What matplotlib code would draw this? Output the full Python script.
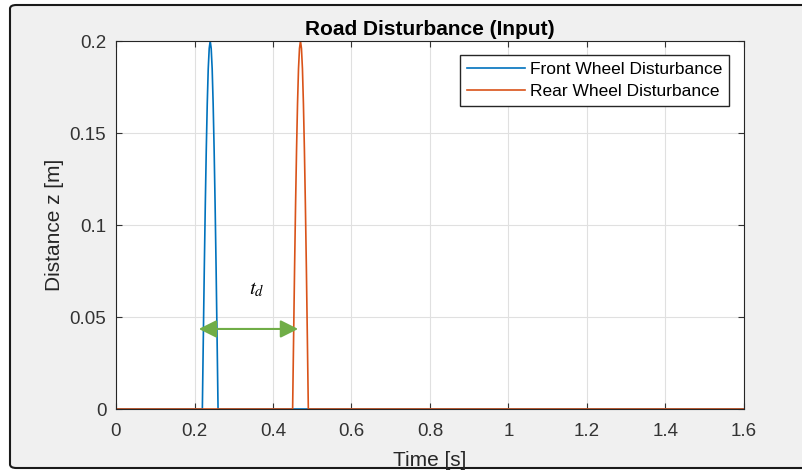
import matplotlib.pyplot as plt
from matplotlib.patches import FancyBboxPatch

plt.rcParams['font.family'] = ['Liberation Sans', 'DejaVu Sans']
plt.rcParams['mathtext.fontset'] = 'stix'

# Values (half-sine bumps of 0.2 m)
front_time = [0, 0.22, 0.2225, 0.225, 0.2275, 0.23, 0.2325, 0.235, 0.2375, 0.24,
              0.2425, 0.245, 0.2475, 0.25, 0.2525, 0.255, 0.2575, 0.26, 1.6]
front_z = [0, 0, 0.039, 0.077, 0.111, 0.141, 0.166, 0.185, 0.196, 0.2,
           0.196, 0.185, 0.166, 0.141, 0.111, 0.077, 0.039, 0, 0]
rear_time = [0, 0.45, 0.4525, 0.455, 0.4575, 0.46, 0.4625, 0.465, 0.4675, 0.47,
             0.4725, 0.475, 0.4775, 0.48, 0.4825, 0.485, 0.4875, 0.49, 1.6]
rear_z = [0, 0, 0.039, 0.077, 0.111, 0.141, 0.166, 0.185, 0.196, 0.2,
          0.196, 0.185, 0.166, 0.141, 0.111, 0.077, 0.039, 0, 0]
series_names = ['Front Wheel Disturbance', 'Rear Wheel Disturbance']
x_ticks = [0, 0.2, 0.4, 0.6, 0.8, 1.0, 1.2, 1.4, 1.6]
x_tick_labels = ['0', '0.2', '0.4', '0.6', '0.8', '1', '1.2', '1.4', '1.6']
y_ticks = [0, 0.05, 0.1, 0.15, 0.2]
y_tick_labels = ['0', '0.05', '0.1', '0.15', '0.2']
delay_start = 0.211
delay_end = 0.464
delay_level = 0.0435

W, H = 803, 470
fig = plt.figure(figsize=(W / 100, H / 100), dpi=100, facecolor='white')

# grey MATLAB figure panel with dark frame
panel = FancyBboxPatch((10 / W, 2 / H), (W + 20) / W, (H - 5 - 2) / H,
                       boxstyle='round,pad=0,rounding_size=0.008',
                       transform=fig.transFigure, facecolor='#F0F0F0',
                       edgecolor='#1a1a1a', linewidth=1.5, zorder=-5)
fig.patches.append(panel)

ax = fig.add_axes([116 / W, 1 - 409 / H, (744 - 116) / W, (409 - 41) / H])
ax.set_facecolor('white')

ax.plot(front_time, front_z, color='#0072BD', linewidth=1.2, label=series_names[0])
ax.plot(rear_time, rear_z, color='#D95319', linewidth=1.2, label=series_names[1])

ax.set_xlim(0, 1.6)
ax.set_ylim(0, 0.2)
ax.set_xticks(x_ticks)
ax.set_xticklabels(x_tick_labels)
ax.set_yticks(y_ticks)
ax.set_yticklabels(y_tick_labels)
ax.tick_params(direction='in', top=True, right=True, length=4, labelsize=13.5,
               colors='#333333', width=0.8, pad=7)
ax.tick_params(axis='x', pad=10)
ax.grid(True, color='#E0E0E0', linewidth=0.8)
ax.set_axisbelow(True)
for s in ax.spines.values():
    s.set_color('#262626')
    s.set_linewidth(0.8)

ax.set_title('Road Disturbance (Input)', fontsize=15, fontweight='bold', pad=4)
ax.set_xlabel('Time [s]', fontsize=15, color='#262626', labelpad=8)
ax.set_ylabel('Distance z [m]', fontsize=15, color='#262626', labelpad=4)

ax.legend(loc='upper right', fontsize=12.5, frameon=True, fancybox=False,
          edgecolor='#262626', framealpha=1, handlelength=3.33,
          borderaxespad=0, borderpad=0.4, labelspacing=0.4,
          handletextpad=0.29, bbox_to_anchor=(0.976, 0.962))

# delay annotation
ax.annotate('', xy=(delay_start, delay_level), xytext=(delay_end, delay_level),
            arrowprops=dict(arrowstyle='<|-|>', color='#70AD47', lw=1.5,
                            mutation_scale=27, shrinkA=0, shrinkB=0))
ax.text(0.359, 0.065, r'$t_d$', fontsize=15,
        ha='center', va='center', color='black')

fig.savefig('out.png', dpi=100, facecolor='white')
